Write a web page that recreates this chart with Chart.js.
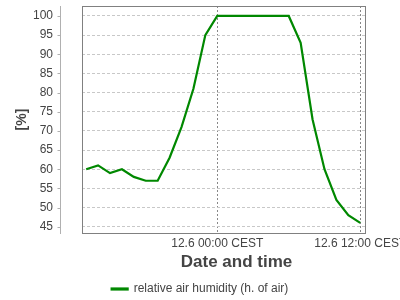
<!DOCTYPE html>
<html lang="en">
<head>
    <meta charset="UTF-8">
    <title>relative air humidity</title>
    <script src="https://cdn.jsdelivr.net/npm/chart.js"></script>
    <style>
        html, body {
            margin: 0;
            padding: 0;
            background: #ffffff;
        }
        #wrap {
            width: 400px;
            height: 300px;
        }
    </style>
</head>
<body>
<div id="wrap"><canvas id="humChart" width="400" height="300"></canvas></div>
<script>
    // hours relative to 12.6 00:00 CEST, one reading per hour
    const hourOffsets = [-11, -10, -9, -8, -7, -6, -5, -4, -3, -2, -1, 0,
                         1, 2, 3, 4, 5, 6, 7, 8, 9, 10, 11, 12];
    const humidity = [60, 61, 59, 60, 58, 57, 57, 63, 71, 81, 95, 100,
                      100, 100, 100, 100, 100, 100, 93, 73, 60, 52, 48, 46];
    const xTicks = [0, 12];
    const xTickLabels = ['12.6 00:00 CEST', '12.6 12:00 CEST'];
    const yTicks = [45, 50, 55, 60, 65, 70, 75, 80, 85, 90, 95, 100];
    const seriesName = 'relative air humidity (h. of air)';
    const xTitle = 'Date and time';
    const yTitle = '[%]';

    const fontFamily = '"Liberation Sans", Arial, sans-serif';
    const textColor = '#444444';

    // plot frame, offset y axis line and the x labels (drawn by hand so the
    // last label may run off the edge like in the original)
    const framePlugin = {
        id: 'frame',
        afterDraw(chart) {
            const { ctx, chartArea: a, scales: { x, y } } = chart;
            ctx.save();
            ctx.strokeStyle = '#808080';
            ctx.lineWidth = 1;
            ctx.strokeRect(a.left + 0.5, a.top + 0.5, a.right - a.left, a.bottom - a.top);

            const ax = a.left - 22 + 0.5;
            ctx.strokeStyle = '#b0b0b0';
            ctx.beginPath();
            ctx.moveTo(ax, a.top);
            ctx.lineTo(ax, a.bottom + 1);
            yTicks.forEach(v => {
                const py = Math.round(y.getPixelForValue(v)) + 0.5;
                ctx.moveTo(ax - 3, py);
                ctx.lineTo(ax, py);
            });
            ctx.stroke();

            ctx.fillStyle = textColor;
            ctx.font = '12px ' + fontFamily;
            ctx.textAlign = 'center';
            ctx.textBaseline = 'top';
            xTicks.forEach((v, i) => {
                ctx.fillText(xTickLabels[i], x.getPixelForValue(v), a.bottom + 5);
            });

            ctx.font = 'bold 17px ' + fontFamily;
            ctx.textBaseline = 'middle';
            ctx.fillText(xTitle, (a.left + a.right) / 2 + 13, a.bottom + 29);
            ctx.restore();
        }
    };

    const ctx = document.getElementById('humChart').getContext('2d');
    const humChart = new Chart(ctx, {
        type: 'line',
        data: {
            labels: hourOffsets,
            datasets: [{
                label: seriesName,
                data: hourOffsets.map((h, i) => ({ x: h, y: humidity[i] })),
                borderColor: '#008800',
                backgroundColor: '#008800',
                borderWidth: 2.2,
                pointRadius: 0,
                tension: 0,
                fill: false
            }]
        },
        options: {
            responsive: false,
            animation: false,
            events: [],
            layout: { padding: { top: 6, right: 0, left: 0, bottom: -5 } },
            scales: {
                x: {
                    type: 'linear',
                    min: -11.35,
                    max: 12.4,
                    afterBuildTicks: s => { s.ticks = xTicks.map(v => ({ value: v })); },
                    afterFit: s => { s.height = 46; },
                    ticks: { display: false },
                    grid: { color: '#888888', drawTicks: false },
                    border: { display: false, dash: [2, 2] }
                },
                y: {
                    min: 43.36,
                    max: 102.6,
                    afterBuildTicks: s => { s.ticks = yTicks.map(v => ({ value: v })); },
                    afterFit: s => { s.width = 82; },
                    ticks: {
                        autoSkip: false,
                        padding: 0,
                        color: textColor,
                        font: { family: fontFamily, size: 12, lineHeight: 1 }
                    },
                    grid: {
                        color: '#c8c8c8',
                        drawTicks: true,
                        tickLength: 29,
                        tickColor: 'rgba(0,0,0,0)'
                    },
                    border: { display: false, dash: [3, 2] },
                    title: {
                        display: true,
                        text: yTitle,
                        color: textColor,
                        font: { family: fontFamily, size: 14, weight: 'bold' },
                        padding: { top: 14, bottom: 0 }
                    }
                },
                // empty right-hand axis, only keeps the margin right of the plot
                yRight: {
                    position: 'right',
                    display: true,
                    afterFit: s => { s.width = 35; },
                    ticks: { display: false },
                    grid: { display: false, drawTicks: false },
                    border: { display: false }
                }
            },
            plugins: {
                legend: {
                    position: 'bottom',
                    labels: {
                        boxWidth: 16,
                        boxHeight: 1,
                        padding: 4,
                        color: textColor,
                        font: { family: fontFamily, size: 12 }
                    }
                },
                tooltip: { enabled: false }
            }
        },
        plugins: [framePlugin]
    });
</script>
</body>
</html>
